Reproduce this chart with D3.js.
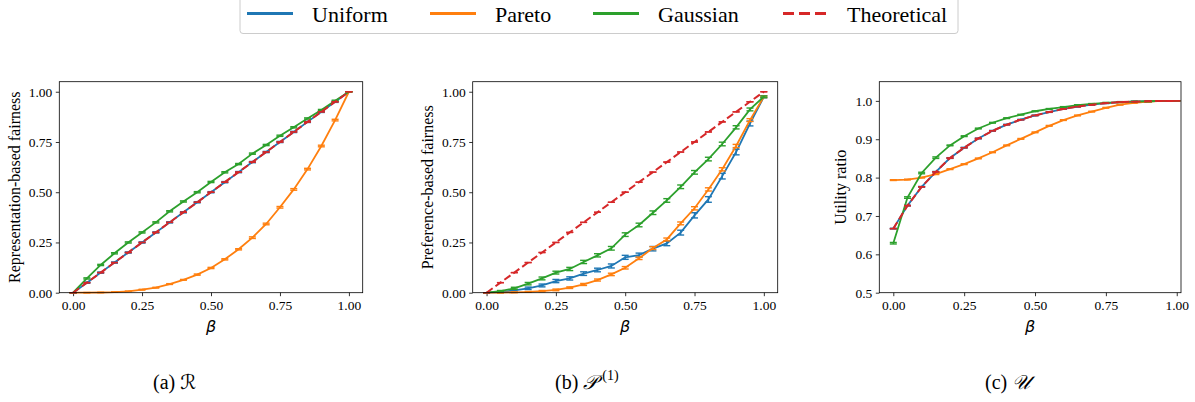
<!DOCTYPE html>
<html><head><meta charset="utf-8">
<script src="https://cdn.jsdelivr.net/npm/d3@7/dist/d3.min.js"></script>
<style>body{margin:0;background:#fff}</style>
</head><body>
<svg id="chart" width="1195" height="402"></svg>
<script>
// ---------- data ----------
const betas = [0,0.05,0.1,0.15,0.2,0.25,0.3,0.35,0.4,0.45,0.5,0.55,0.6,0.65,0.7,0.75,0.8,0.85,0.9,0.95,1.0];
const seriesNames = ["Uniform","Pareto","Gaussian","Theoretical"];
const seriesColors = ["#1f77b4","#ff7f0e","#2ca02c","#d62728"];

// (a) Representation-based fairness
const repUniform  = [0,0.05,0.1,0.15,0.2,0.25,0.3,0.35,0.4,0.45,0.5,0.55,0.6,0.65,0.7,0.75,0.8,0.85,0.9,0.95,1.0];
const repPareto   = [0,0.0,0.001,0.003,0.007,0.015,0.025,0.043,0.064,0.09,0.123,0.166,0.216,0.274,0.342,0.425,0.514,0.615,0.73,0.859,1.0];
const repGaussian = [0,0.071,0.138,0.196,0.25,0.30,0.35,0.405,0.454,0.50,0.551,0.599,0.64,0.692,0.735,0.781,0.823,0.867,0.909,0.955,1.0];
const repTheory   = [0,0.05,0.1,0.15,0.2,0.25,0.3,0.35,0.4,0.45,0.5,0.55,0.6,0.65,0.7,0.75,0.8,0.85,0.9,0.95,1.0];
const repErrU = [0,0.003,0.003,0.003,0.003,0.003,0.003,0.003,0.003,0.003,0.003,0.003,0.003,0.003,0.003,0.003,0.003,0.003,0.003,0.003,0];
const repErrP = [0,0.001,0.001,0.001,0.001,0.002,0.002,0.002,0.002,0.003,0.003,0.003,0.003,0.004,0.004,0.004,0.004,0.004,0.004,0.004,0];
const repErrG = [0,0.003,0.003,0.003,0.003,0.003,0.003,0.003,0.003,0.003,0.003,0.003,0.003,0.003,0.003,0.003,0.003,0.003,0.003,0.003,0];

// (b) Preference-based fairness
const prefUniform  = [0,0.003,0.012,0.022,0.036,0.058,0.071,0.095,0.113,0.133,0.176,0.187,0.219,0.245,0.299,0.385,0.464,0.58,0.70,0.842,0.975];
const prefPareto   = [0,0.0,0.002,0.004,0.008,0.014,0.025,0.041,0.063,0.091,0.124,0.171,0.222,0.265,0.345,0.42,0.514,0.614,0.73,0.859,0.975];
const prefGaussian = [0,0.008,0.022,0.045,0.071,0.10,0.118,0.153,0.186,0.221,0.289,0.337,0.398,0.459,0.527,0.599,0.665,0.74,0.823,0.912,0.975];
const prefTheory   = [0,0.05,0.1,0.15,0.2,0.25,0.3,0.35,0.4,0.45,0.5,0.55,0.6,0.65,0.7,0.75,0.8,0.85,0.9,0.95,1.0];
const prefErrU = [0,0.003,0.005,0.006,0.007,0.008,0.008,0.009,0.009,0.01,0.01,0.01,0.011,0.011,0.012,0.013,0.014,0.014,0.014,0.012,0.005];
const prefErrP = [0,0.001,0.002,0.002,0.003,0.004,0.004,0.005,0.005,0.006,0.006,0.006,0.007,0.007,0.007,0.008,0.008,0.008,0.008,0.007,0.004];
const prefErrG = [0,0.003,0.005,0.006,0.007,0.007,0.008,0.008,0.008,0.009,0.009,0.009,0.009,0.009,0.009,0.009,0.009,0.009,0.008,0.007,0.004];

// (c) Utility ratio
const utilUniform  = [0.667,0.727,0.776,0.815,0.851,0.878,0.902,0.922,0.938,0.951,0.962,0.971,0.979,0.985,0.990,0.994,0.997,0.998,0.999,1.0,1.0];
const utilPareto   = [0.7935,0.795,0.800,0.809,0.822,0.835,0.850,0.866,0.884,0.901,0.918,0.935,0.950,0.962,0.972,0.982,0.990,0.995,0.998,1.0,1.0];
const utilGaussian = [0.629,0.748,0.812,0.852,0.884,0.908,0.928,0.943,0.955,0.964,0.973,0.979,0.984,0.989,0.992,0.995,0.997,0.998,0.999,1.0,1.0];
const utilTheory   = [0.667,0.727,0.776,0.815,0.851,0.878,0.902,0.922,0.938,0.951,0.962,0.971,0.979,0.985,0.990,0.994,0.997,0.998,0.999,1.0,1.0];
const utilErrU = [0.001,0.001,0.001,0.001,0.001,0.001,0.001,0.001,0.001,0.001,0.001,0.001,0.001,0.001,0.001,0.001,0.001,0.001,0.001,0,0];
const utilErrP = [0.001,0.001,0.001,0.001,0.001,0.001,0.001,0.001,0.001,0.001,0.001,0.001,0.001,0.001,0.001,0.001,0.001,0.001,0.001,0,0];
const utilErrG = [0.002,0.002,0.002,0.002,0.001,0.001,0.001,0.001,0.001,0.001,0.001,0.001,0.001,0.001,0.001,0.001,0.001,0.001,0.001,0,0];

const xTicks = [0,0.25,0.5,0.75,1.0];
const fairTicks = [0,0.25,0.5,0.75,1.0];
const utilTicks = [0.5,0.6,0.7,0.8,0.9,1.0];

// ---------- layout ----------
const svg = d3.select("#chart");
svg.append("rect").attr("width",1195).attr("height",402).attr("fill","#fff");
const plotTop = 81.7, plotBottom = 292.7;
const serif = "'Liberation Serif','Times New Roman',serif";

const panels = [
  {x0:59.3, x1:362.7, xd:[-0.05,1.05], yd:[0,1.05], yt:fairTicks, fmt:d3.format(".2f"),
   ylab:"Representation-based fairness", ylx:14,
   vals:[repUniform,repPareto,repGaussian,repTheory], errs:[repErrU,repErrP,repErrG,null],
   cap:"ℛ", sup:null, capx:153},
  {x0:472.7, x1:777.7, xd:[-0.05,1.05], yd:[0,1.05], yt:fairTicks, fmt:d3.format(".2f"),
   ylab:"Preference-based fairness", ylx:427,
   vals:[prefUniform,prefPareto,prefGaussian,prefTheory], errs:[prefErrU,prefErrP,prefErrG,null],
   cap:"𝒫", sup:"(1)", capx:555},
  {x0:879.3, x1:1181, xd:[-0.0494,1.015], yd:[0.5,1.05], yt:utilTicks, fmt:d3.format(".1f"),
   ylab:"Utility ratio", ylx:840,
   vals:[utilUniform,utilPareto,utilGaussian,utilTheory], errs:[utilErrU,utilErrP,utilErrG,null],
   cap:"𝒰", sup:null, capx:985}
];
const capLetters = ["(a)","(b)","(c)"];

panels.forEach((p,pi)=>{
  const x = d3.scaleLinear().domain(p.xd).range([p.x0,p.x1]);
  const y = d3.scaleLinear().domain(p.yd).range([plotBottom,plotTop]);
  const g = svg.append("g");

  const xa = g.append("g").attr("transform",`translate(0,${plotBottom})`)
    .call(d3.axisBottom(x).tickValues(xTicks).tickFormat(d3.format(".2f")).tickSize(3.5).tickPadding(3.5));
  const ya = g.append("g").attr("transform",`translate(${p.x0},0)`)
    .call(d3.axisLeft(y).tickValues(p.yt).tickFormat(p.fmt).tickSize(3.5).tickPadding(3.5));
  [xa,ya].forEach(a=>{
    a.select(".domain").remove();
    a.selectAll("line").attr("stroke","#000").attr("stroke-width",0.8);
    a.selectAll("text").attr("font-family",serif).attr("font-size",13.5).attr("fill","#000");
  });
  xa.selectAll("text").attr("dy","0.75em");

  p.vals.forEach((v,si)=>{
    const col = seriesColors[si];
    const line = d3.line().x((d,i)=>x(betas[i])).y(d=>y(d));
    const path = g.append("path").datum(v).attr("d",line).attr("fill","none")
      .attr("stroke",col).attr("stroke-width",1.8);
    if(si===3) path.attr("stroke-dasharray","7.5,3.5").attr("stroke-width",2);
    const e = p.errs[si] || v.map(()=>0);
    const eg = g.append("g").attr("stroke",col).attr("stroke-width",1.4);
    v.forEach((d,i)=>{
      const cx = x(betas[i]);
      const ylo = y(d - e[i]), yhi = y(d + e[i]);
      eg.append("line").attr("x1",cx).attr("x2",cx).attr("y1",ylo).attr("y2",yhi);
      eg.append("line").attr("x1",cx-3.5).attr("x2",cx+3.5).attr("y1",ylo).attr("y2",ylo);
      eg.append("line").attr("x1",cx-3.5).attr("x2",cx+3.5).attr("y1",yhi).attr("y2",yhi);
    });
  });

  g.append("rect").attr("x",p.x0).attr("y",plotTop).attr("width",p.x1-p.x0).attr("height",plotBottom-plotTop)
    .attr("fill","none").attr("stroke","#000").attr("stroke-width",0.8);

  g.append("text").attr("transform",`translate(${p.ylx},${(plotTop+plotBottom)/2}) rotate(-90)`)
    .attr("text-anchor","middle").attr("dominant-baseline","central")
    .attr("font-family",serif).attr("font-size",16).text(p.ylab);
  g.append("text").attr("x",(p.x0+p.x1)/2).attr("y",332).attr("text-anchor","middle")
    .attr("font-family","'DejaVu Sans',sans-serif").attr("font-style","italic").attr("font-size",16).text("β");

  const ct = g.append("text").attr("x",p.capx).attr("y",389).attr("font-family",serif).attr("font-size",20);
  ct.append("tspan").text(capLetters[pi]+" ");
  ct.append("tspan").attr("font-family","'DejaVu Serif','DejaVu Sans',serif").attr("font-style","italic").text(p.cap);
  if(p.sup) ct.append("tspan").attr("font-size",14).attr("dx",5).attr("dy",-9).text(p.sup);
});

// legend
const lg = svg.append("g");
lg.append("rect").attr("x",240).attr("y",-4).attr("width",718).attr("height",37.5).attr("rx",3)
  .attr("fill","#fff").attr("stroke","#cccccc").attr("stroke-width",1);
const legX = [247,430,593,783];
const legTextX = [312,495,658,847];
seriesNames.forEach((n,i)=>{
  const l = lg.append("line").attr("x1",legX[i]).attr("x2",legX[i]+46).attr("y1",13.5).attr("y2",13.5)
    .attr("stroke",seriesColors[i]).attr("stroke-width",3);
  if(i===3) l.attr("stroke-dasharray","11,5");
  lg.append("text").attr("x",legTextX[i]).attr("y",21.5).attr("font-family",serif).attr("font-size",22).text(n);
});
</script>
</body></html>
